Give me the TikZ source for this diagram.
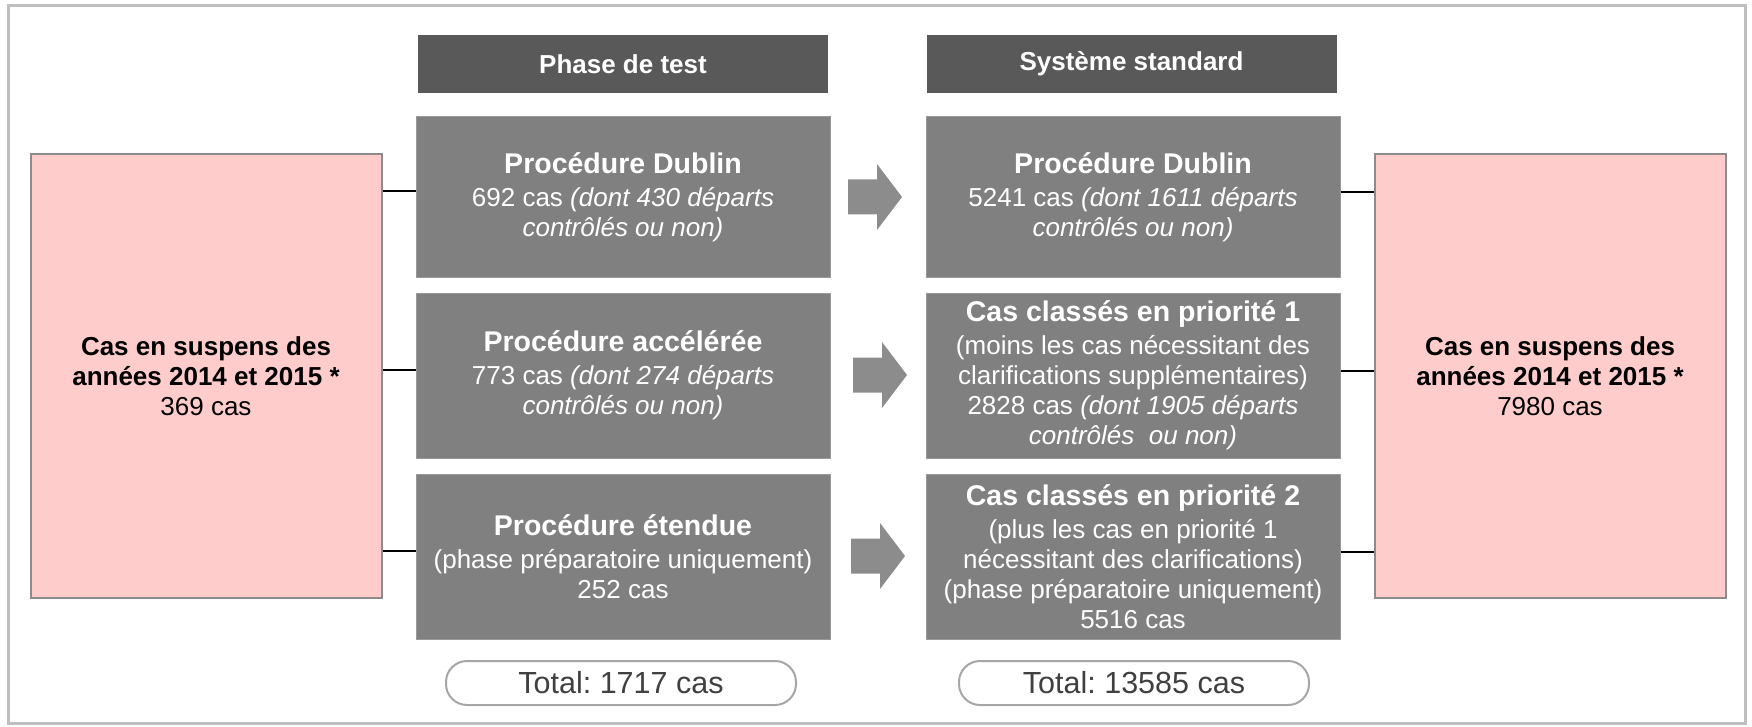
\documentclass[tikz,border=0pt]{standalone}
\usepackage{fontspec}
\setmainfont{Liberation Sans}
\frenchspacing
\definecolor{framegrey}{HTML}{BFBFBF}
\definecolor{headgrey}{HTML}{595959}
\definecolor{boxgrey}{HTML}{808080}
\definecolor{arrowgrey}{HTML}{8C8C8C}
\definecolor{pinkfill}{HTML}{FFCCCC}
\definecolor{pillgrey}{HTML}{A6A6A6}
\definecolor{textgrey}{HTML}{404040}
\newcommand{\TitleFont}{\fontsize{28.5}{33}\selectfont\bfseries}
\tikzset{
  HeadStyle/.style = { rectangle, fill = headgrey, text = white,
                       minimum width = 410pt, minimum height = 58pt,
                       inner sep = 0pt, font = \fontsize{26}{30}\selectfont\bfseries },
  BoxStyle/.style  = { rectangle, fill = boxgrey, draw = gray!80, line width = 1pt,
                       text = white, align = center, minimum width = 414pt,
                       inner sep = 0pt, font = \fontsize{26}{30}\selectfont },
  SideStyle/.style = { rectangle, fill = pinkfill, draw = arrowgrey, line width = 2pt,
                       text = black, align = center, minimum width = 351pt,
                       minimum height = 444pt, inner sep = 0pt,
                       font = \fontsize{26}{30}\selectfont },
  TotalStyle/.style = { rectangle, rounded corners = 21pt, draw = pillgrey,
                        line width = 2pt, fill = white, text = textgrey,
                        minimum width = 350pt, minimum height = 44pt,
                        inner sep = 0pt, font = \fontsize{30.5}{34}\selectfont },
  LinkStyle/.style = { black, line width = 2pt },
  blockarrow/.pic = { \fill[arrowgrey] (0,-17.5) -- (29,-17.5) -- (29,-33) -- (54,0)
                      -- (29,33) -- (29,17.5) -- (0,17.5) -- cycle; }
}

\begin{document}
\begin{tikzpicture}[x=1pt, y=-1pt]
  \useasboundingbox (0,0) rectangle (1752,727);
  \draw[framegrey, line width=3pt] (8,6) rectangle (1745,723);

  % headers
  \node[HeadStyle](HEAD1) at (623,64){Phase de test};
  \node[HeadStyle](HEAD2) at (1131.5,64){Système standard};

  % test phase
  \node[BoxStyle, minimum height=160.5pt](DUB1) at (623,197.25)
    {{\TitleFont Procédure Dublin}\\[3pt]692 cas \textit{(dont 430 départs}\\\textit{contrôlés ou non)}};
  \node[BoxStyle, minimum height=165pt](ACC) at (623,375.5)
    {{\TitleFont Procédure accélérée}\\[3pt]773 cas \textit{(dont 274 départs}\\\textit{contrôlés ou non)}};
  \node[BoxStyle, minimum height=165pt](ETE) at (623,556.5)
    {{\TitleFont Procédure étendue}\\[3pt](phase préparatoire uniquement)\\252 cas};

  % standard system
  \node[BoxStyle, minimum height=160.5pt](DUB2) at (1133,197.25)
    {{\TitleFont Procédure Dublin}\\[3pt]5241 cas \textit{(dont 1611 départs}\\\textit{contrôlés ou non)}};
  \node[BoxStyle, minimum height=165pt](PRIO1) at (1133,375.5)
    {{\TitleFont Cas classés en priorité 1}\\[3pt](moins les cas nécessitant des\\clarifications supplémentaires)\\2828 cas \textit{(dont 1905 départs}\\\textit{contrôlés\ \ ou non)}};
  \node[BoxStyle, minimum height=165pt](PRIO2) at (1133,556.5)
    {{\TitleFont Cas classés en priorité 2}\\[3pt](plus les cas en priorité 1\\nécessitant des clarifications)\\(phase préparatoire uniquement)\\5516 cas};

  % pending cases
  \node[SideStyle](LEFT) at (206,376)
    {\textbf{Cas en suspens des}\\\textbf{années 2014 et 2015 *}\\369 cas};
  \node[SideStyle](RIGHT) at (1550,376)
    {\textbf{Cas en suspens des}\\\textbf{années 2014 et 2015 *}\\7980 cas};

  % totals
  \node[TotalStyle](TOT1) at (621,683){Total: 1717 cas};
  \node[TotalStyle](TOT2) at (1134,683){Total: 13585 cas};

  \pic at (848,197) {blockarrow};
  \pic at (853,375) {blockarrow};
  \pic at (851,556) {blockarrow};

  \foreach \bx in {DUB1,ACC,ETE}{
    \draw[LinkStyle] (\bx.west) ++(0,-6) coordinate (l) -- (l -| LEFT.east);
  }
  \foreach \bx in {DUB2,PRIO1,PRIO2}{
    \draw[LinkStyle] (\bx.east) ++(0,-5) coordinate (r) -- (r -| RIGHT.west);
  }
\end{tikzpicture}
\end{document}
